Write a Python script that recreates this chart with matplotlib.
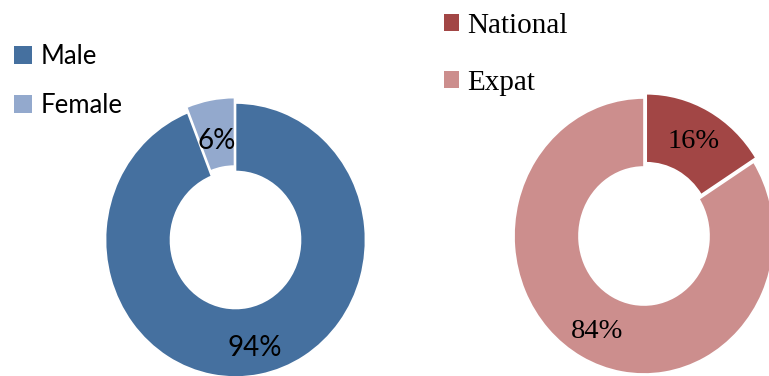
import matplotlib
matplotlib.use("Agg")
from matplotlib import pyplot as plt
from matplotlib.patches import Patch

# gender split
gender_labels = ["Male", "Female"]
gender_values = [94, 6]
gender_colors = ["#45709f", "#93a9cd"]

# nationality split
nat_labels = ["National", "Expat"]
nat_values = [16, 84]
nat_colors = ["#a24645", "#cc8e8d"]

W, H = 769, 376
fig = plt.figure(figsize=(W / 100, H / 100), dpi=100)


def px_axes(x0, y0, x1, y1):
    # axes box given in pixel coords, y measured from the top
    return fig.add_axes([x0 / W, 1 - y1 / H, (x1 - x0) / W, (y1 - y0) / H])


def donut(ax, values, colors, explode, font, size):
    wedges, texts, autotexts = ax.pie(
        values, colors=colors, startangle=90, counterclock=False,
        explode=explode, radius=1.0, pctdistance=0.75,
        autopct="%1.0f%%",
        wedgeprops=dict(width=0.5, edgecolor="white", linewidth=1.2, clip_on=False),
        textprops=dict(fontfamily=font, fontsize=size, color="black"))
    ax.set_aspect("auto")
    ax.set_xlim(-1, 1)
    ax.set_ylim(-1, 1)
    ax.axis("off")
    return autotexts


##################
# Left: genders  #
##################
ax1 = px_axes(105.5, 103, 365.5, 377)
pcts = donut(ax1, gender_values, gender_colors, [0, 0.04], "Lato", 20)
x, y = pcts[0].get_position()
pcts[0].set_position((x + 0.01, y - 0.05))
x, y = pcts[1].get_position()
pcts[1].set_position((x, y - 0.05))

handles = [Patch(facecolor=c, edgecolor="none") for c in gender_colors]
fig.legend(handles, gender_labels, loc="upper left",
           bbox_to_anchor=(14 / W, 1 - 44 / H), frameon=False,
           borderpad=0, borderaxespad=0, handlelength=0.7, handleheight=0.7,
           handletextpad=0.35, labelspacing=0.95,
           prop=dict(family="Lato", size=18.5))

########################
# Right: nationalities #
########################
ax2 = px_axes(514, 98, 774, 374)
pcts = donut(ax2, nat_values, nat_colors, [0.035, 0], "Liberation Serif", 20.5)
x, y = pcts[1].get_position()
pcts[1].set_position((x, y - 0.035))

handles = [Patch(facecolor=c, edgecolor="none") for c in nat_colors]
fig.legend(handles, nat_labels, loc="upper left",
           bbox_to_anchor=(444 / W, 1 - 13 / H), frameon=False,
           borderpad=0, borderaxespad=0, handlelength=0.5, handleheight=0.5,
           handletextpad=0.3, labelspacing=1.05,
           prop=dict(family="Liberation Serif", size=21))

fig.savefig("out.png", dpi=100)
